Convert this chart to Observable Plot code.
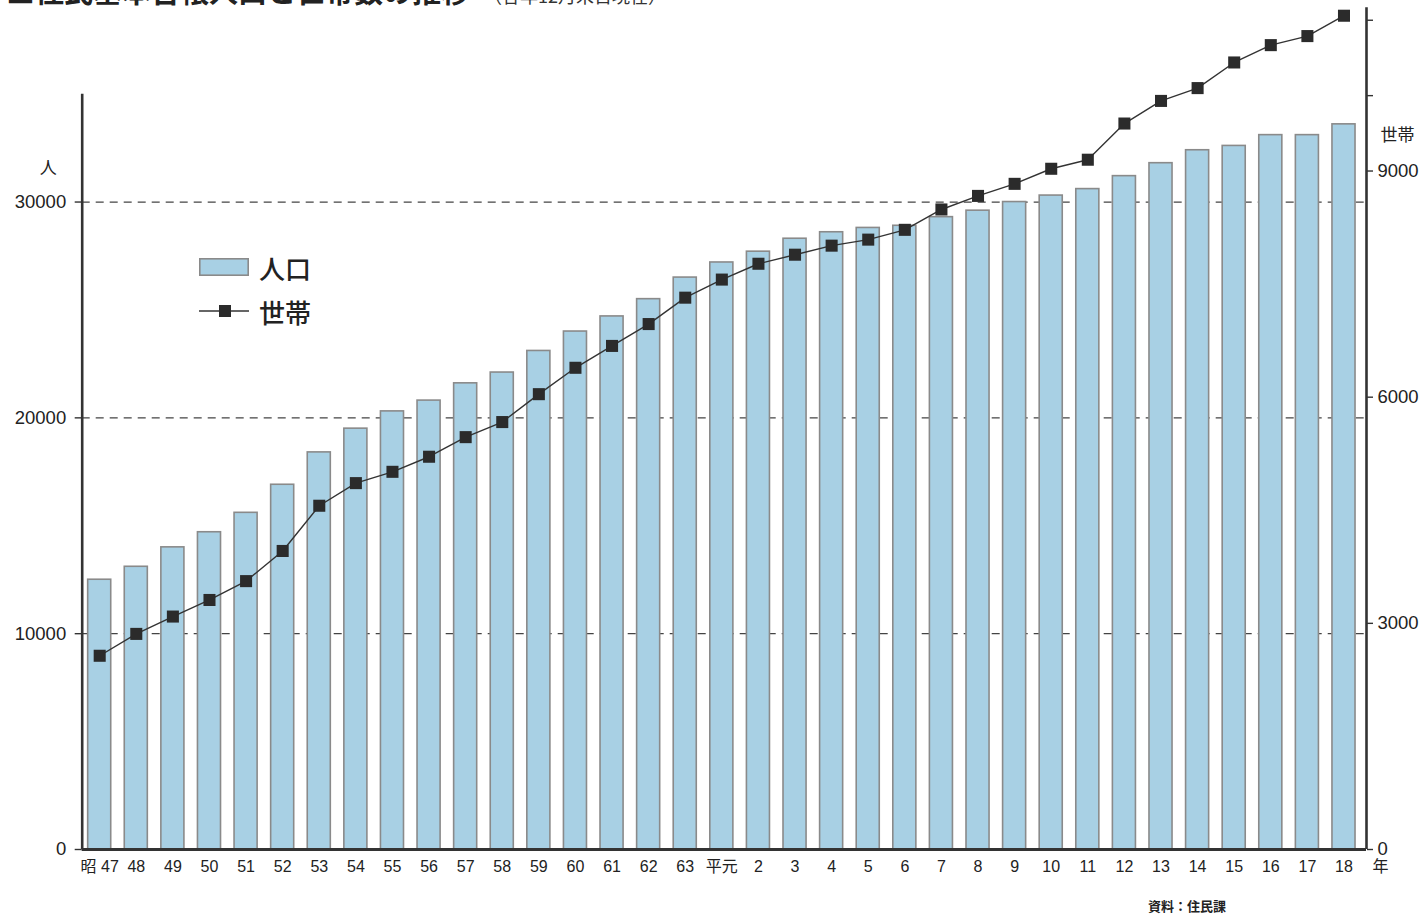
<!DOCTYPE html>
<html lang="ja">
<head>
<meta charset="utf-8">
<title>住民基本台帳人口と世帯数の推移</title>
<script src="https://cdn.jsdelivr.net/npm/d3@7"></script>
<script src="https://cdn.jsdelivr.net/npm/@observablehq/plot@0.6"></script>
<style>
  html, body { margin: 0; padding: 0; background: #fff; overflow: hidden; }
  #wrap { position: relative; width: 1423px; height: 917px; font-family: "Liberation Sans", "Noto Sans CJK JP", sans-serif; color: #222; }
  #title { position: absolute; left: 6px; top: -24px; white-space: nowrap; font-family: "Noto Sans CJK JP", sans-serif; line-height: 29px; }
  #title .main { font-size: 29px; font-weight: 700; color: #222; }
  #title .sub { font-size: 18px; font-weight: 400; color: #333; margin-left: 14px; }
  #legend { position: absolute; left: 199px; top: 245px; font-family: "Noto Sans CJK JP", sans-serif; font-size: 26px; font-weight: 500; color: #222; }
  #legend .row { display: flex; align-items: center; height: 44px; }
  #legend svg { margin-right: 10px; }
  #caption { position: absolute; left: 1148px; top: 896px; font-family: "Noto Sans CJK JP", sans-serif; font-size: 13px; font-weight: 700; color: #222; }
</style>
</head>
<body>
<div id="wrap">
  <div id="chart"></div>
  <div id="title"><span class="main">■住民基本台帳人口と世帯数の推移</span><span class="sub">（各年12月末日現在）</span></div>
  <div id="legend"></div>
  <div id="caption">資料：住民課</div>
</div>
<script>
// 年次ラベル（昭和47年〜平成18年）
const years = [
  "昭 47", "48", "49", "50", "51", "52", "53", "54", "55", "56", "57", "58", "59",
  "60", "61", "62", "63", "平元", "2", "3", "4", "5", "6", "7", "8", "9", "10",
  "11", "12", "13", "14", "15", "16", "17", "18"
];

// 人口（人）
const population = [
  12500, 13100, 14000, 14700, 15600, 16900, 18400, 19500, 20300, 20800, 21600, 22100, 23100,
  24000, 24700, 25500, 26500, 27200, 27700, 28300, 28600, 28800, 28900, 29300, 29600, 30000, 30300,
  30600, 31200, 31800, 32400, 32600, 33100, 33100, 33600
];

// 世帯数
const households = [
  2570, 2860, 3090, 3310, 3560, 3960, 4560, 4860, 5010, 5210, 5470, 5670, 6040,
  6390, 6680, 6970, 7320, 7560, 7770, 7890, 8010, 8090, 8220, 8490, 8670, 8830, 9030,
  9150, 9630, 9930, 10100, 10440, 10670, 10790, 11060
];

// 目盛
const popTicks = [0, 10000, 20000, 30000];
const popGrid = [10000, 20000, 30000];
const popAxisTop = 35000;
const hhTicks = [0, 3000, 6000, 9000, 10000, 11000];
const hhLabeled = [0, 3000, 6000, 9000];

// 世帯数（右軸）を人口（左軸）の単位に換算する係数
const hhToPop = 3.493;

const barFill = "#a8d0e4";
const barStroke = "#8a8a8a";
const ink = "#333";

const rows = years.map((label, i) => ({i, label, pop: population[i], hh: households[i]}));
const xMin = -0.478;
const xMax = years.length - 1 + 0.615;

const chart = Plot.plot({
  width: 1423,
  height: 917,
  marginLeft: 81.7,
  marginRight: 57,
  marginTop: 7.3,
  marginBottom: 68,
  style: {fontFamily: "'Liberation Sans', 'Noto Sans CJK JP', sans-serif", fontSize: "17px", color: "#222", background: "#fff"},
  x: {type: "linear", domain: [xMin, xMax], label: null},
  y: {domain: [0, 39000], label: null},
  marks: [
    // 破線の目盛線
    Plot.ruleY(popGrid, {stroke: "#444", strokeWidth: 1.3, strokeDasharray: "8,6"}),
    // 人口の棒
    Plot.rectY(rows, {x1: d => d.i - 0.315, x2: d => d.i + 0.315, y: "pop", fill: barFill, stroke: barStroke, strokeWidth: 1.6}),
    // 世帯数の折れ線
    Plot.line(rows, {x: "i", y: d => d.hh * hhToPop, stroke: ink, strokeWidth: 1.4}),
    Plot.dot(rows, {x: "i", y: d => d.hh * hhToPop, symbol: "square", r: 6.8, fill: "#2b2b2b", stroke: "none"}),
    // 軸線
    Plot.ruleX([xMin], {y1: 0, y2: popAxisTop, stroke: ink, strokeWidth: 2.6}),
    Plot.ruleX([xMax], {y1: 0, y2: 39000, stroke: ink, strokeWidth: 2.6}),
    Plot.ruleY([0], {stroke: ink, strokeWidth: 3}),
    // 左軸（人）
    Plot.axisY(popTicks, {anchor: "left", label: null, tickSize: 7, tickPadding: 9, stroke: ink, strokeWidth: 1.4, fontSize: 18.5, tickFormat: d => String(d)}),
    // 右軸（世帯）
    Plot.axisY(hhTicks.map(v => v * hhToPop), {anchor: "right", label: null, tickSize: 6, tickPadding: 5, stroke: ink, strokeWidth: 1.4, fontSize: 18.5,
      tickFormat: d => { const v = Math.round(d / hhToPop); return hhLabeled.includes(v) ? String(v) : ""; }}),
    // 横軸
    Plot.axisX(rows.map(d => d.i), {anchor: "bottom", label: null, tickSize: 0, tickPadding: 11, fontSize: 16, tickFormat: i => years[i]}),
    // 単位
    Plot.text(["人"], {x: xMin, y: 30000, dx: -34, dy: -33, fontSize: 17, fill: "#222"}),
    Plot.text(["世帯"], {x: xMax, y: 9000 * hhToPop, dx: 31, dy: -35, fontSize: 17, fill: "#222"}),
    Plot.text(["年"], {x: xMax, y: 0, dx: 14, dy: 17, fontSize: 16, fill: "#222"})
  ]
});
document.getElementById("chart").appendChild(chart);

// 凡例
const legend = document.getElementById("legend");
legend.innerHTML = `
  <div class="row">
    <svg width="50" height="20"><rect x="0.8" y="1.8" width="48.4" height="16.4" fill="${barFill}" stroke="${barStroke}" stroke-width="1.6"/></svg>
    <span>人口</span>
  </div>
  <div class="row">
    <svg width="50" height="20"><line x1="0" x2="50" y1="10" y2="10" stroke="${ink}" stroke-width="1.4"/><rect x="20" y="4" width="12" height="12" fill="#2b2b2b"/></svg>
    <span>世帯</span>
  </div>`;
</script>
</body>
</html>
